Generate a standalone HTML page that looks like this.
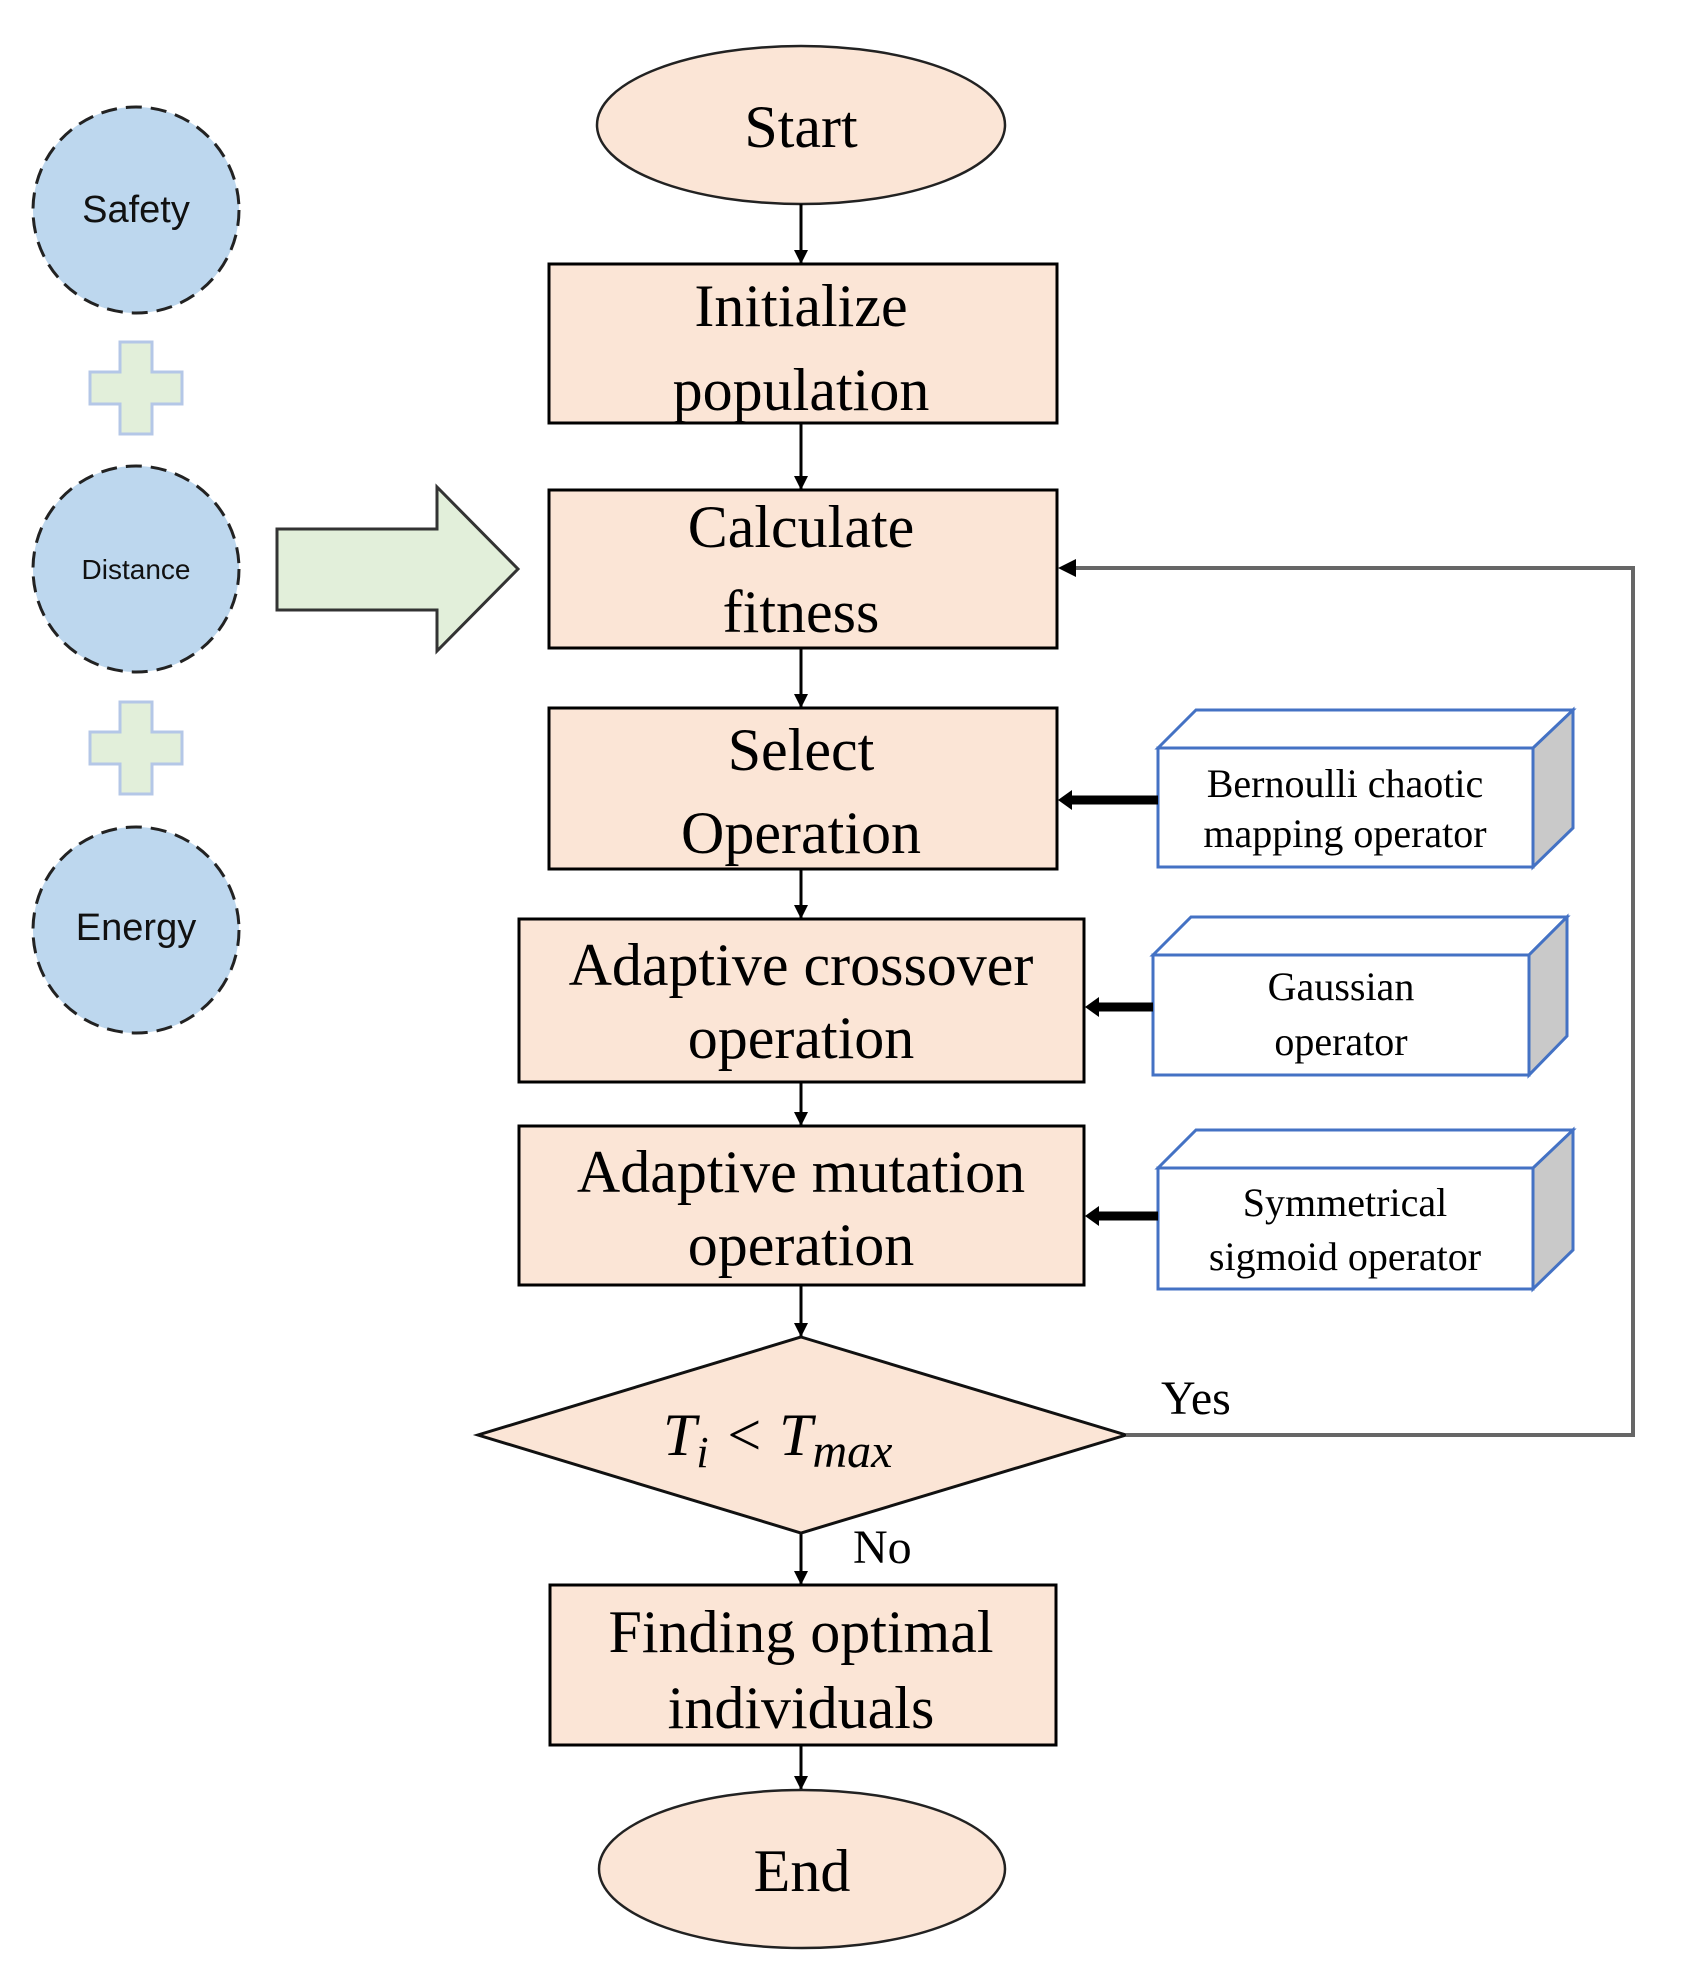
<!DOCTYPE html>
<html><head><meta charset="utf-8"><style>
html,body{margin:0;padding:0;background:#fff}
svg{display:block}
.m{font-family:"Liberation Serif",serif;font-size:60px;fill:#000;text-anchor:middle}
.c{font-family:"Liberation Serif",serif;font-size:40px;fill:#000;text-anchor:middle}
.s{font-family:"Liberation Sans",sans-serif;fill:#111;text-anchor:middle}
</style></head><body>
<svg width="1690" height="1977" viewBox="0 0 1690 1977" xmlns="http://www.w3.org/2000/svg">
<defs>
<marker id="ah" markerWidth="14" markerHeight="16" refX="13" refY="7" orient="auto" markerUnits="userSpaceOnUse" viewBox="0 0 14 14">
<path d="M0,0 L14,7 L0,14 z" fill="#000"/></marker>
</defs>
<g stroke="#222" stroke-width="3" stroke-dasharray="16,9" fill="#bdd7ee">
<circle cx="136" cy="210" r="103"/>
<circle cx="136" cy="569" r="103"/>
<circle cx="136" cy="930" r="103"/>
</g>
<text class="s" x="136" y="222" font-size="38">Safety</text>
<text class="s" x="136" y="579" font-size="28">Distance</text>
<text class="s" x="136" y="940" font-size="38">Energy</text>
<g fill="#e2efda" stroke="#b4c7e7" stroke-width="3">
<path d="M120,342 H152 V372 H182 V404 H152 V434 H120 V404 H90 V372 H120 Z"/>
<path d="M120,702 H152 V732 H182 V764 H152 V794 H120 V764 H90 V732 H120 Z"/>
</g>
<path d="M277,529 H437 V487 L518,569 L437,651 V610 H277 Z" fill="#e2efda" stroke="#333" stroke-width="3"/>
<ellipse cx="801" cy="125" rx="204" ry="79" fill="#fbe5d6" stroke="#222" stroke-width="2.5"/>
<text class="m" x="801" y="147">Start</text>
<g stroke="#000" stroke-width="3" marker-end="url(#ah)">
<line x1="801" y1="204" x2="801" y2="263"/>
<line x1="801" y1="423" x2="801" y2="489"/>
<line x1="801" y1="648" x2="801" y2="707"/>
<line x1="801" y1="869" x2="801" y2="918"/>
<line x1="801" y1="1082" x2="801" y2="1125"/>
<line x1="801" y1="1285" x2="801" y2="1336"/>
<line x1="801" y1="1533" x2="801" y2="1584"/>
<line x1="801" y1="1745" x2="801" y2="1789"/>
</g>
<g fill="#fbe5d6" stroke="#000" stroke-width="3">
<rect x="549" y="264" width="508" height="159"/>
<rect x="549" y="490" width="508" height="158"/>
<rect x="549" y="708" width="508" height="161"/>
<rect x="519" y="919" width="565" height="163"/>
<rect x="519" y="1126" width="565" height="159"/>
<rect x="550" y="1585" width="506" height="160"/>
</g>
<text class="m" x="801" y="326">Initialize</text>
<text class="m" x="801" y="410">population</text>
<text class="m" x="801" y="547">Calculate</text>
<text class="m" x="801" y="632">fitness</text>
<text class="m" x="801" y="770">Select</text>
<text class="m" x="801" y="853">Operation</text>
<text class="m" x="801" y="985">Adaptive crossover</text>
<text class="m" x="801" y="1058">operation</text>
<text class="m" x="801" y="1192">Adaptive mutation</text>
<text class="m" x="801" y="1265">operation</text>
<text class="m" x="801" y="1652">Finding optimal</text>
<text class="m" x="801" y="1728">individuals</text>
<path d="M801,1337 L1126,1435 L801,1533 L478,1435 Z" fill="#fbe5d6" stroke="#111" stroke-width="3"/>
<text x="663" y="1455" font-family="Liberation Serif,serif" font-style="italic" font-size="60">T<tspan font-size="44" dy="12">i</tspan><tspan dy="-12"> &lt; T</tspan><tspan font-size="48" dy="12">max</tspan></text>
<polyline points="1126,1435 1633,1435 1633,568 1072,568" fill="none" stroke="#666" stroke-width="4"/>
<path d="M1058,568 L1076,559 L1076,577 Z" fill="#000"/>
<text x="1161" y="1414" font-family="Liberation Serif,serif" font-size="48">Yes</text>
<text x="853" y="1563" font-family="Liberation Serif,serif" font-size="48">No</text>
<ellipse cx="802" cy="1869" rx="203" ry="79" fill="#fbe5d6" stroke="#222" stroke-width="2.5"/>
<text class="m" x="802" y="1891">End</text>
<g stroke="#4472c4" stroke-width="3">
<path d="M1158,748 L1196,710 L1573,710 L1535,748 Z" fill="#fff"/>
<path d="M1533,748 L1573,710 L1573,828 L1533,867 Z" fill="#c9c9c9"/>
<rect x="1158" y="748" width="375" height="119" fill="#fff"/>
<path d="M1153,955 L1191,917 L1567,917 L1529,955 Z" fill="#fff"/>
<path d="M1529,955 L1567,917 L1567,1036 L1529,1075 Z" fill="#c9c9c9"/>
<rect x="1153" y="955" width="376" height="120" fill="#fff"/>
<path d="M1158,1168 L1196,1130 L1573,1130 L1535,1168 Z" fill="#fff"/>
<path d="M1533,1168 L1573,1130 L1573,1250 L1533,1289 Z" fill="#c9c9c9"/>
<rect x="1158" y="1168" width="375" height="121" fill="#fff"/>
</g>
<text class="c" x="1345" y="797">Bernoulli chaotic</text>
<text class="c" x="1345" y="847">mapping operator</text>
<text class="c" x="1341" y="1000">Gaussian</text>
<text class="c" x="1341" y="1055">operator</text>
<text class="c" x="1345" y="1216">Symmetrical</text>
<text class="c" x="1345" y="1270">sigmoid operator</text>
<g stroke="#000" stroke-width="9">
<line x1="1158" y1="800" x2="1068" y2="800"/>
<line x1="1153" y1="1007" x2="1096" y2="1007"/>
<line x1="1158" y1="1216" x2="1096" y2="1216"/>
</g>
<g fill="#000">
<path d="M1058,800 L1072,790 L1072,810 Z"/>
<path d="M1085,1007 L1099,997 L1099,1017 Z"/>
<path d="M1085,1216 L1099,1206 L1099,1226 Z"/>
</g>
</svg>
</body></html>
